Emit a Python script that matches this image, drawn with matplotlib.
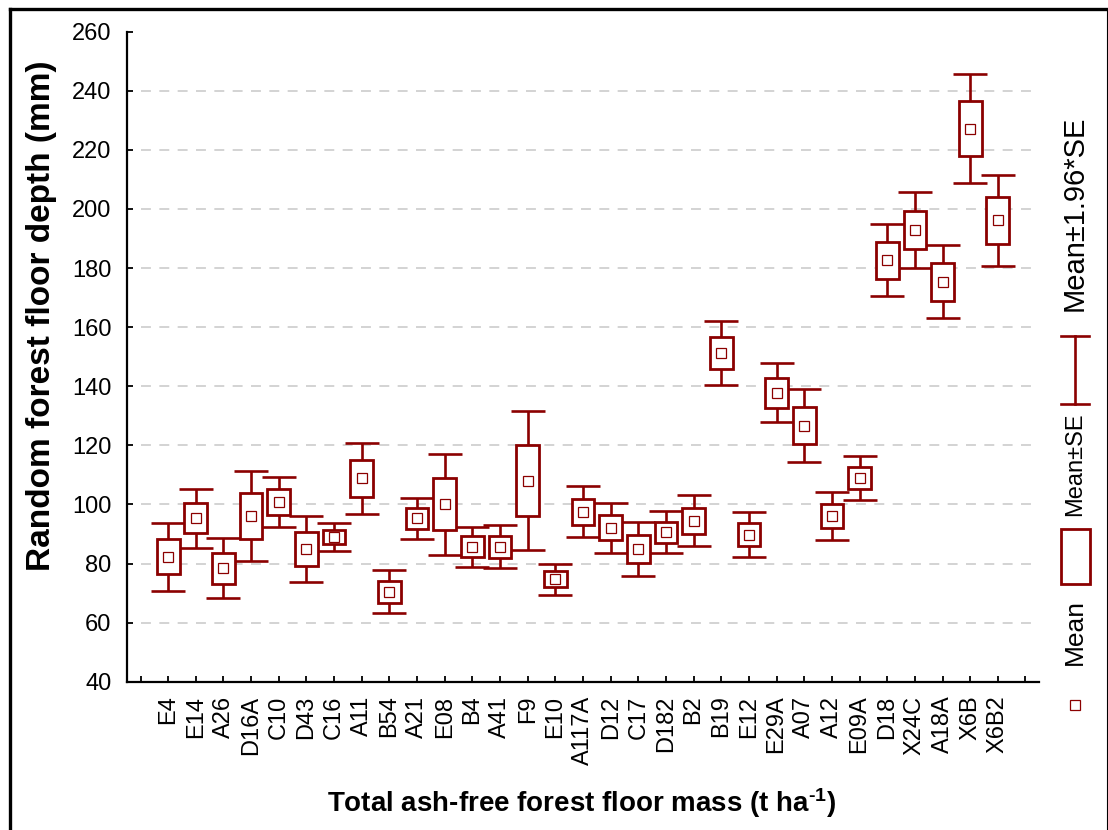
import matplotlib
matplotlib.use("Agg")
import numpy as np
import matplotlib.pyplot as plt
from matplotlib.patches import Rectangle
from matplotlib.lines import Line2D

plt.rcParams['font.family'] = ['Liberation Sans', 'DejaVu Sans']
plt.rcParams['mathtext.fontset'] = 'custom'
plt.rcParams['mathtext.rm'] = 'Liberation Sans:bold'
plt.rcParams['mathtext.bf'] = 'Liberation Sans:bold'
plt.rcParams['mathtext.default'] = 'bf'

# Plot sites and forest floor depth stats (mm)
sites = ["E4", "E14", "A26", "D16A", "C10", "D43", "C16", "A11", "B54", "A21",
         "E08", "B4", "A41", "F9", "E10", "A117A", "D12", "C17", "D182", "B2",
         "B19", "E12", "E29A", "A07", "A12", "E09A", "D18", "X24C", "A18A",
         "X6B", "X6B2"]
means = [82.3, 95.3, 78.4, 96.0, 100.8, 84.9, 88.9, 108.8, 70.5, 95.3,
         100.1, 85.7, 85.7, 108.0, 74.6, 97.6, 92.1, 84.9, 90.6, 94.5,
         151.2, 89.7, 137.8, 126.7, 96.1, 109.0, 182.7, 192.9, 175.3,
         227.2, 196.1]
se = [5.85, 5.1, 5.2, 7.8, 4.3, 5.7, 2.4, 6.2, 3.7, 3.5,
      8.7, 3.45, 3.7, 12.0, 2.7, 4.4, 4.3, 4.6, 3.6, 4.4,
      5.5, 3.9, 5.1, 6.3, 4.1, 3.75, 6.25, 6.5, 6.3,
      9.4, 7.8]
yticks = [40, 60, 80, 100, 120, 140, 160, 180, 200, 220, 240, 260]

red = '#8b0000'
W, H = 1108, 830

x = np.arange(1, len(sites) + 1)
means = np.array(means)
se = np.array(se)

fig = plt.figure(figsize=(W / 100, H / 100), dpi=100)
ax = fig.add_axes([126.7 / W, 1 - 681.7 / H, (1039.3 - 126.7) / W, (681.7 - 31.7) / H])

# dashed grid from the first tick to the axis end
ax.hlines(yticks[1:-1], 0, 32.5, colors='#c8c8c8', linewidth=1.1,
          linestyles=(0, (6.5, 5.5)), zorder=0)

# whiskers: mean +/- 1.96*SE
ax.errorbar(x, means, yerr=1.96 * se, fmt='none', ecolor=red, elinewidth=1.9,
            capsize=12.5, capthick=1.9, zorder=2)

# boxes: mean +/- SE
bw = 0.82
for xi, m, s in zip(x, means, se):
    ax.add_patch(Rectangle((xi - bw / 2, m - s), bw, 2 * s, facecolor='white',
                           edgecolor=red, linewidth=2.0, zorder=3))

# means
ax.plot(x, means, linestyle='none', marker='s', markersize=7.4,
        markerfacecolor='white', markeredgecolor=red, markeredgewidth=0.9, zorder=4)

ax.set_xlim(-0.5, 32.5)
ax.set_ylim(40, 260)
ax.set_yticks(yticks)
ax.set_xticks(np.arange(0, 33))
ax.set_xticklabels([""] + sites + [""], rotation=90, va='top')
ax.tick_params(axis='both', direction='in', length=4, width=1.3, labelsize=17)
ax.tick_params(axis='y', pad=11)
ax.tick_params(axis='x', pad=10)
for sp in ['top', 'right']:
    ax.spines[sp].set_visible(False)
for sp in ['left', 'bottom']:
    ax.spines[sp].set_linewidth(1.6)

fig.text(42 / W, 1 - 316 / H, "Random forest floor depth (mm)", rotation=90,
         ha='center', va='center', fontsize=24, fontweight='bold')
fig.text(582 / W, 1 - 803 / H, r"Total ash-free forest floor mass (t ha$^{\text{-1}}$)",
         ha='center', va='center', fontsize=20, fontweight='bold')

# legend along the right edge
lx = 1075 / W
def fy(py):
    return 1 - py / H

fig.add_artist(Line2D([lx], [fy(705)], marker='s', markersize=7.4, linestyle='none',
                      markerfacecolor='white', markeredgecolor=red,
                      markeredgewidth=0.9, transform=fig.transFigure))
fig.text(lx, fy(632), "Mean", rotation=90, ha='center', va='center', fontsize=19)
fig.add_artist(Rectangle((1061 / W, fy(584)), 29 / W, 55 / H, facecolor='white',
                         edgecolor=red, linewidth=2.0, transform=fig.transFigure))
fig.text(lx, fy(464), "Mean±SE", rotation=90, ha='center', va='center', fontsize=17)
fig.add_artist(Line2D([lx, lx], [fy(336), fy(404)], color=red, linewidth=1.9,
                      transform=fig.transFigure))
for py in (336, 404):
    fig.add_artist(Line2D([1061 / W, 1089 / W], [fy(py), fy(py)], color=red,
                          linewidth=1.9, transform=fig.transFigure))
fig.text(lx, fy(213), "Mean±1.96*SE", rotation=90, ha='center', va='center', fontsize=21)

# frame around the figure
fig.add_artist(Line2D([10 / W, 10 / W], [0, fy(9.5)], color='black', linewidth=2.4,
                      transform=fig.transFigure))
fig.add_artist(Line2D([10 / W, 1106.5 / W], [fy(9.5), fy(9.5)], color='black',
                      linewidth=2.4, transform=fig.transFigure))
fig.add_artist(Line2D([1106.5 / W, 1106.5 / W], [0, fy(9.5)], color='black',
                      linewidth=0.8, transform=fig.transFigure))

fig.savefig("out.png", dpi=100)
